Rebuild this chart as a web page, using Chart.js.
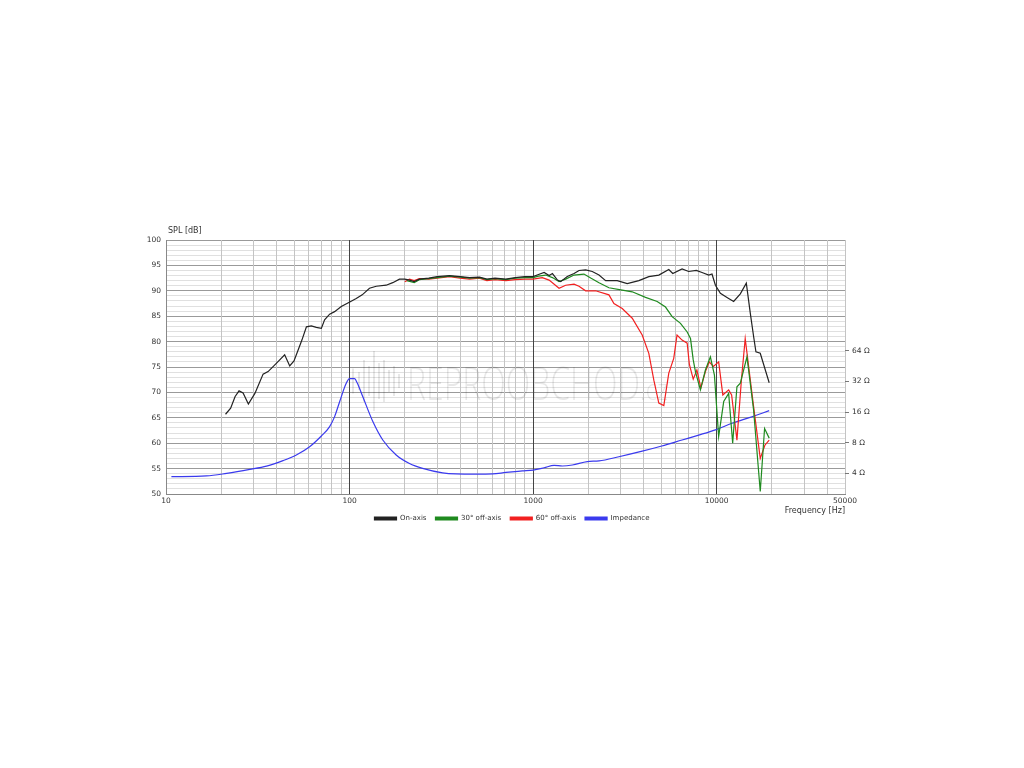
<!DOCTYPE html>
<html>
<head>
<meta charset="utf-8">
<script src="https://cdn.jsdelivr.net/npm/chart.js@4.4.0/dist/chart.umd.min.js"></script>
<style>
  html, body { margin: 0; padding: 0; background: #fff; }
  #wrap { position: absolute; left: 0; top: 0; width: 1024px; height: 768px; }
</style>
</head>
<body>
<div id="wrap"><canvas id="frChart" width="1024" height="768"></canvas></div>
<script>
// --- Datos (frecuencia en Hz, SPL en dB, impedancia en ohmios) ---
const onAxisFreq = [21.1, 22.5, 23.8, 25.0, 26.3, 28.1, 30.5, 33.8, 36.0, 39.9, 44.3, 47.2, 49.8, 52.4, 55.0,
  58.2, 61.9, 65.9, 70.2, 73.1, 77.9, 82.9, 90.1, 99.1, 108.7, 117.2, 128.4, 139.7, 158.3, 171.9, 187,
  200, 212, 225, 240, 270, 300, 350, 400, 450, 510, 560, 620, 710, 800, 900, 1000, 1070, 1148, 1222,
  1274, 1357, 1413, 1535, 1671, 1778, 1932, 2100, 2285, 2483, 2872, 3256, 3767, 4268, 4838, 5483,
  5764, 6476, 7040, 7748, 8318, 9051, 9427, 9842, 10476, 11380, 12370, 13450, 14500, 15240, 15890,
  16360, 17270, 19320];
const onAxisSpl = [65.7, 66.9, 69.2, 70.3, 69.9, 67.7, 69.8, 73.6, 74.1, 75.7, 77.4, 75.2, 76.2, 78.3, 80.3,
  82.9, 83.1, 82.8, 82.6, 84.3, 85.4, 85.9, 86.9, 87.7, 88.5, 89.2, 90.5, 90.9, 91.1, 91.6, 92.3,
  92.3, 92.1, 91.8, 92.3, 92.5, 92.8, 93.0, 92.8, 92.6, 92.7, 92.3, 92.5, 92.3, 92.6, 92.8, 92.8, 93.2, 93.6, 93.0,
  93.4, 92.1, 91.8, 92.8, 93.4, 94.0, 94.1, 93.8, 93.1, 92.0, 92.0, 91.4, 92.0, 92.8, 93.1, 94.2,
  93.4, 94.3, 93.8, 94.0, 93.6, 93.1, 93.3, 91.1, 89.5, 88.7, 87.9, 89.4, 91.5, 85.6, 81.0,
  78.0, 77.7, 71.9];

const off30Freq = [205, 225, 240, 270, 300, 350, 400, 450, 510, 560, 620, 710, 800, 900, 1000, 1070, 1170,
  1274, 1384, 1504, 1671, 1778, 1892, 2059, 2285, 2588, 3005, 3467, 4095, 4740, 5262, 5718, 6350,
  6906, 7200, 7450, 7660, 8150, 8680, 9240, 9720, 10250, 10920, 11620, 12220, 12890, 13450, 14620,
  15890, 17270, 18230, 19320];
const off30Spl = [92.0, 91.6, 92.2, 92.4, 92.6, 92.9, 92.7, 92.5, 92.6, 92.2, 92.4, 92.2, 92.5, 92.6, 92.6, 92.9, 93.1,
  92.6, 91.8, 92.3, 93.1, 93.2, 93.3, 92.5, 91.6, 90.6, 90.2, 89.8, 88.7, 87.9, 86.8, 84.9, 83.6,
  81.9, 80.6, 76.4, 74.1, 70.5, 74.4, 77.0, 73.4, 61.3, 68.2, 69.8, 60.0, 71.1, 71.8, 77.0,
  66.5, 50.5, 62.9, 61.0];

const off60Freq = [200, 212, 225, 240, 270, 300, 350, 400, 450, 510, 560, 620, 710, 800, 900, 1000, 1122,
  1222, 1384, 1504, 1671, 1778, 1932, 2188, 2588, 2755, 3058, 3467, 3928, 4268, 4545, 4838, 5152,
  5483, 5835, 6080, 6476, 6906, 7100, 7450, 7800, 8200, 8680, 9100, 9600, 10250, 10800, 11620,
  12060, 12890, 13630, 14300, 15890, 17270, 18300, 19320];
const off60Spl = [91.8, 92.3, 92.0, 92.4, 92.3, 92.5, 92.8, 92.5, 92.3, 92.5, 92.0, 92.2, 92.0, 92.2, 92.3, 92.3, 92.6,
  92.1, 90.5, 91.1, 91.3, 90.9, 90.0, 90.0, 89.2, 87.5, 86.5, 84.6, 81.3, 77.7, 72.4, 67.9, 67.4,
  73.8, 76.7, 81.3, 80.3, 79.7, 75.5, 72.6, 74.4, 70.9, 74.1, 76.0, 75.1, 76.0, 69.5, 70.5,
  69.5, 60.6, 72.4, 80.6, 67.2, 57.0, 59.6, 60.6];

const impFreq = [10.7, 16.6, 21.4, 28.6, 35.3, 43.4, 51.3, 60.6, 70.2, 77.9, 83.0, 88.3, 95.9, 100, 106.5,
  110, 118.1, 133.9, 151.7, 179.4, 212, 250, 321, 380, 488, 601, 711, 875, 1000, 1148, 1300, 1443,
  1636, 1972, 2285, 2932, 3928, 5022, 6476, 7980, 9842, 12110, 15560, 19320];
const impOhm = [3.71, 3.77, 4.0, 4.37, 4.71, 5.33, 6.06, 7.3, 9.3, 11.5, 14.5, 20.2, 30.6, 34.0, 34.0,
  31.0, 22.6, 12.9, 8.5, 6.06, 5.0, 4.48, 4.05, 3.95, 3.93, 3.95, 4.08, 4.22, 4.31, 4.54, 4.79, 4.72,
  4.83, 5.22, 5.3, 5.82, 6.6, 7.42, 8.5, 9.5, 10.7, 12.4, 14.4, 16.5];

const xTickLabels = [10, 100, 1000, 10000, 50000];
const ohmTicks = [4, 8, 16, 32, 64];

// líneas de rejilla: 1..9 por década hasta 50 kHz
const xGrid = [];
[10, 100, 1000, 10000].forEach(d => {
  for (let m = 1; m <= 9; m++) {
    const v = d * m;
    if (v <= 50000) xGrid.push(v);
  }
});
const yGrid = [];
for (let v = 50; v <= 100; v++) yGrid.push(v);

const pairs = (xs, ys) => xs.map((x, i) => ({ x, y: ys[i] }));
const isDecade = v => [100, 1000, 10000].includes(v);

const FONT = 'DejaVu Sans';

// Texto "SPL [dB]" encima del eje y marca de agua
const extrasPlugin = {
  id: 'extras',
  beforeDatasetsDraw(chart) {
    const { ctx } = chart;
    ctx.save();
    ctx.fillStyle = 'rgba(0,0,0,0.09)';
    const bars = [[352, 25], [358, 18], [363, 42], [368, 30], [373, 60], [378, 36], [383, 42], [388, 22], [393, 30], [398, 14]];
    bars.forEach(([bx, h]) => ctx.fillRect(bx, 381 - h / 2, 2, h));
    ctx.font = '300 46px "Open Sans"';
    ctx.textBaseline = 'alphabetic';
    ctx.fillText('REPROOBCHOD', 407, 400, 233);
    ctx.font = '300 30px "Open Sans"';
    ctx.fillText('.cz', 640, 400, 28);
    ctx.restore();
  },
  afterDraw(chart) {
    const { ctx, chartArea } = chart;
    ctx.save();
    ctx.fillStyle = '#333';
    ctx.font = '8px "' + FONT + '"';
    ctx.textBaseline = 'middle';
    ctx.fillText('SPL [dB]', chartArea.left + 2, chartArea.top - 9);
    ctx.restore();
  }
};

new Chart(document.getElementById('frChart'), {
  type: 'line',
  data: {
    datasets: [
      {
        label: 'On-axis',
        data: pairs(onAxisFreq, onAxisSpl),
        borderColor: '#222',
        backgroundColor: '#222',
        borderWidth: 1.2,
        pointRadius: 0,
        yAxisID: 'y'
      },
      {
        label: '30° off-axis',
        data: pairs(off30Freq, off30Spl),
        borderColor: '#1f8a1f',
        backgroundColor: '#1f8a1f',
        borderWidth: 1.2,
        pointRadius: 0,
        yAxisID: 'y'
      },
      {
        label: '60° off-axis',
        data: pairs(off60Freq, off60Spl),
        borderColor: '#f22020',
        backgroundColor: '#f22020',
        borderWidth: 1.2,
        pointRadius: 0,
        yAxisID: 'y'
      },
      {
        label: 'Impedance',
        data: pairs(impFreq, impOhm),
        borderColor: '#3a3aee',
        backgroundColor: '#3a3aee',
        borderWidth: 1.2,
        pointRadius: 0,
        cubicInterpolationMode: 'monotone',
        yAxisID: 'y2'
      }
    ]
  },
  options: {
    responsive: false,
    animation: false,
    devicePixelRatio: 1,
    layout: { padding: { top: 240, bottom: 236, left: 0, right: 0 } },
    plugins: {
      legend: {
        position: 'bottom',
        labels: {
          boxWidth: 22,
          boxHeight: 3,
          padding: 9,
          color: '#333',
          font: { family: FONT, size: 7 }
        }
      },
      tooltip: { enabled: false }
    },
    scales: {
      x: {
        type: 'logarithmic',
        min: 10,
        max: 50000,
        afterBuildTicks: s => { s.ticks = xGrid.map(v => ({ value: v })); },
        afterFit: s => { s.height = 12; },
        grid: {
          z: -1,
          drawTicks: false,
          color: c => (c.tick && isDecade(c.tick.value)) ? '#444' : '#c4c4c4'
        },
        border: { color: '#888' },
        ticks: {
          autoSkip: false,
          maxRotation: 0,
          padding: 3,
          color: '#333',
          font: { family: FONT, size: 7.5 },
          callback: v => xTickLabels.includes(v) ? String(v) : ''
        },
        title: {
          display: true,
          text: 'Frequency [Hz]',
          align: 'end',
          color: '#333',
          font: { family: FONT, size: 8 },
          padding: { top: 0, bottom: -10 }
        }
      },
      y: {
        position: 'left',
        min: 50,
        max: 100,
        afterBuildTicks: s => { s.ticks = yGrid.map(v => ({ value: v })); },
        afterFit: s => { s.width = 166; },
        grid: {
          z: -2,
          drawTicks: false,
          color: c => (c.tick && c.tick.value % 5 === 0) ? '#9a9a9a' : '#e0e0e0'
        },
        border: { color: '#888' },
        ticks: {
          autoSkip: false,
          padding: 5,
          color: '#333',
          font: { family: FONT, size: 7.5 },
          callback: v => v % 5 === 0 ? String(v) : ''
        }
      },
      y2: {
        type: 'logarithmic',
        position: 'right',
        min: 2.507,
        max: 783,
        afterBuildTicks: s => { s.ticks = ohmTicks.map(v => ({ value: v })); },
        afterFit: s => { s.width = 179; },
        grid: { drawOnChartArea: false, tickLength: 4, color: '#777' },
        border: { display: false },
        ticks: {
          autoSkip: false,
          padding: 3,
          color: '#333',
          font: { family: FONT, size: 7.5 },
          callback: v => v + ' Ω'
        }
      }
    }
  },
  plugins: [extrasPlugin]
});
</script>
</body>
</html>
